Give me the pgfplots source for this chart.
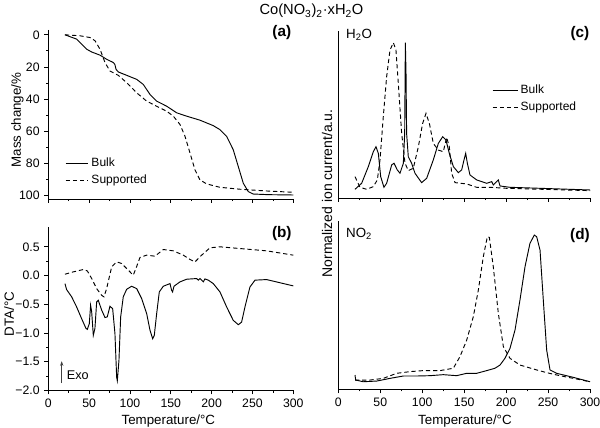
\documentclass[border=0pt]{standalone}
\usepackage{pgfplots}
\pgfplotsset{compat=1.18}
\usetikzlibrary{arrows.meta}
\usepackage{fontspec}
\setmainfont{Liberation Sans}
\tikzset{plab/.style={font=\bfseries\fontsize{11.5}{13}\selectfont, anchor=base}}
\begin{document}
\begin{tikzpicture}
\useasboundingbox (0pt,0pt) rectangle (450pt,321pt);
\pgfplotsset{
  panel/.style={
    scale only axis,
    axis x line*=bottom, axis y line*=left,
    axis line style={line width=0.6pt, -},
    tick style={line width=0.5pt, black},
    tick align=outside,
    major tick length=3pt, minor tick length=1.6pt,
    xmin=0, xmax=300,
    xtick={0,50,...,300}, minor x tick num=1,
    ticklabel style={font=\fontsize{9.2}{11}\selectfont},
    label style={font=\fontsize{10}{12}\selectfont},
    legend cell align=left,
    legend style={draw=none, fill=none, font=\fontsize{9}{11}\selectfont, row sep=1pt, inner sep=0pt},
    legend image code/.code={\draw[##1] (0pt,0pt) -- (17pt,0pt);},
    clip=false,
  },
  bulk/.style={black, line width=0.7pt},
  supp/.style={black, line width=0.7pt, dash pattern=on 3.2pt off 2.2pt},
}
% (a) TGA
\begin{axis}[panel, at={(36.23pt,171.75pt)}, anchor=south west,
  width=183.75pt, height=126.75pt,
  y dir=reverse, ymin=-3, ymax=102.5,
  ytick={0,20,...,100}, yticklabels={0,20,40,60,80,100}, minor y tick num=1,
  xticklabels={},
  ylabel={Mass change/\%},
  ylabel style={at={(axis description cs:-0.126,0.467)}, anchor=center},
  legend style={at={(axis description cs:0.068,0.06)}, anchor=south west},
]
\addplot[bulk] coordinates {(20.4,0) (34.7,2.7) (47,9) (53,10.7) (63.3,12.7) (71.5,15.3) (79.6,17.3) (81.5,18.5) (82.9,21.5) (85.7,23.2) (96,25.3) (108.2,27.8) (116.3,31) (124.5,37.2) (132.7,41.4) (145,44.6) (151,46.6) (157.2,48.7) (169.5,50.8) (185.7,53.3) (202,56.7) (210.2,59.2) (218.4,63.4) (226.5,71.8) (232.6,82.2) (238.8,92.7) (244.9,97.9) (251,99.4) (270,99.8) (300,100)};
\addlegendentry{Bulk}
\addplot[supp] coordinates {(20.4,0) (38.8,0.6) (51,1.7) (57.2,3.7) (63.3,9) (69.4,17.3) (75.5,22.6) (85.7,25.3) (96,29.9) (108.2,36.2) (120.4,41.4) (132.7,44.6) (145,47.7) (153.1,50.8) (161.3,56) (167.4,63.4) (173.5,73.8) (179.6,84.3) (185.7,90.6) (194,93.1) (210.2,95.2) (234.7,96.4) (267.4,97.5) (300,98.3)};
\addlegendentry{Supported}
\node[plab] at (axis description cs:0.953,0.96) {(a)};
\end{axis}
% (b) DTA
\begin{axis}[panel, at={(36.23pt,28.125pt)}, anchor=south west,
  width=183.75pt, height=122.85pt,
  ymin=-2.0, ymax=0.85,
  ytick={-2,-1.5,-1,-0.5,0,0.5}, yticklabels={−2.0,−1.5,−1.0,−0.5,0.0,0.5}, minor y tick num=1,
  xticklabels={0,50,100,150,200,250,300},
  ylabel={DTA/°C}, xlabel={Temperature/°C},
  ylabel style={at={(axis description cs:-0.16,0.467)}, anchor=center},
  xlabel style={at={(axis description cs:0.49,-0.205)}, anchor=base},
]
\addplot[bulk] coordinates {(20.4,-0.14) (22.4,-0.244) (28.6,-0.37) (34.7,-0.547) (40.8,-0.75) (46.1,-0.92) (47.8,-0.936) (50.2,-0.837) (51.8,-0.517) (53.1,-0.63) (55.1,-1.04) (57.1,-0.92) (59.2,-0.46) (61.2,-0.43) (65.3,-0.60) (69.4,-0.73) (72.2,-0.72) (75.5,-0.535) (78.8,-0.576) (81.6,-1.01) (83.7,-1.77) (84.5,-1.83) (86.5,-1.48) (88.6,-0.72) (91.8,-0.37) (95.9,-0.24) (102,-0.186) (108.2,-0.227) (114.3,-0.40) (120.4,-0.66) (124.5,-0.95) (127.8,-1.10) (129.8,-1.04) (132.7,-0.66) (135.9,-0.285) (140.8,-0.186) (149,-0.14) (151,-0.256) (152.2,-0.285) (153.9,-0.186) (161.2,-0.11) (169.4,-0.064) (181.6,-0.052) (183.7,-0.08) (185.7,-0.052) (189.8,-0.11) (191.8,-0.058) (195.9,-0.08) (202,-0.14) (210.2,-0.285) (218.4,-0.547) (226.5,-0.78) (232.7,-0.855) (236.7,-0.81) (240.8,-0.547) (246.9,-0.20) (253.1,-0.08) (267.3,-0.07) (300,-0.18)};
\addplot[supp] coordinates {(20.4,0.023) (30.6,0.064) (42.9,0.105) (47.8,0.08) (53.1,-0.052) (59.2,-0.227) (65.3,-0.343) (68.2,-0.372) (71.4,-0.227) (77.6,0.151) (83.7,0.238) (89.8,0.21) (98,0.093) (104,0.006) (107.3,0.122) (112.2,0.314) (120.4,0.355) (130.6,0.337) (140.8,0.453) (153,0.43) (165.3,0.355) (173.5,0.28) (179.6,0.238) (187.8,0.355) (198,0.483) (210.2,0.5) (234.7,0.47) (267.3,0.43) (300,0.355)};
\draw[-{Stealth[length=3.5pt,width=2.5pt]}, line width=0.6pt, black!75] (axis cs:16.4,-1.87) -- (axis cs:16.4,-1.49);
\node[anchor=west, inner sep=0pt, font=\fontsize{9.5}{11}\selectfont] at (axis cs:22.5,-1.74) {Exo};
\node[plab] at (axis description cs:0.953,0.933) {(b)};
\end{axis}
% (c) H2O
\begin{axis}[panel, at={(253.73pt,172.5pt)}, anchor=south west,
  width=188.8pt, height=125.25pt,
  ymin=0, ymax=1, ytick=\empty, xticklabels={},
  legend style={at={(axis description cs:0.61,0.593)}, anchor=west},
  legend image code/.code={\draw[#1] (0pt,0pt) -- (18.75pt,0pt);},
]
\addplot[bulk] coordinates {(19.9,0.052) (27.8,0.088) (35.8,0.188) (41.7,0.277) (44.9,0.307) (47.7,0.267) (50.5,0.128) (54.4,0.064) (57.6,0.088) (63.6,0.198) (66.4,0.208) (70.3,0.168) (73.5,0.148) (77.5,0.208) (79.1,0.387) (79.9,0.93) (80.7,0.746) (81.4,0.387) (83.4,0.247) (87.4,0.208) (91.4,0.148) (99.3,0.092) (105.3,0.118) (113.2,0.228) (119.2,0.327) (124.4,0.367) (128.3,0.347) (132.3,0.267) (137.1,0.188) (143,0.152) (147,0.168) (149.8,0.228) (151.8,0.267) (153.8,0.208) (156.9,0.138) (164.9,0.108) (176.8,0.088) (182.8,0.098) (184.7,0.078) (190.7,0.108) (192.7,0.072) (204.6,0.064) (240.4,0.058) (300,0.048)};
\addlegendentry{Bulk}
\addplot[supp] coordinates {(19.9,0.128) (25.8,0.064) (33.8,0.052) (41.7,0.068) (46.5,0.108) (49.7,0.228) (53.6,0.487) (57.6,0.727) (61.6,0.886) (65.6,0.93) (68.7,0.886) (71.5,0.687) (75.5,0.387) (79.5,0.208) (83.4,0.164) (89.4,0.178) (95.4,0.307) (100.5,0.447) (104.5,0.507) (108.5,0.447) (113.2,0.327) (119.2,0.287) (125.1,0.277) (129.1,0.363) (132.3,0.307) (135.1,0.148) (139.1,0.092) (153,0.084) (164.9,0.064) (180.8,0.064) (200.6,0.058) (300,0.044)};
\addlegendentry{Supported}
\node[anchor=base west, inner sep=0pt, font=\fontsize{10}{12}\selectfont] at (axis description cs:0.03,0.956) {H\textsubscript{2}O};
\node[plab] at (axis description cs:0.96,0.962) {(c)};
\end{axis}
% (d) NO2
\begin{axis}[panel, at={(253.73pt,29.0pt)}, anchor=south west,
  width=188.8pt, height=126.45pt,
  ymin=0, ymax=1, ytick=\empty,
  xticklabels={0,50,100,150,200,250,300},
  xlabel={Temperature/°C},
  xlabel style={at={(axis description cs:0.503,-0.206)}, anchor=base},
]
\addplot[bulk] coordinates {(19.9,0.085) (20.7,0.055) (29.8,0.045) (45.7,0.049) (61.6,0.065) (77.5,0.079) (93.4,0.079) (109.3,0.081) (125.1,0.087) (141,0.081) (153,0.095) (164.9,0.095) (176.8,0.111) (186.7,0.125) (192.7,0.144) (198.6,0.184) (204.6,0.243) (210.6,0.352) (216.5,0.53) (222.5,0.727) (228.4,0.866) (233.6,0.915) (236.4,0.905) (240.4,0.826) (244.3,0.53) (248.3,0.233) (252.3,0.115) (260.2,0.095) (280.1,0.071) (300,0.045)};
\addplot[supp] coordinates {(19.9,0.055) (37.7,0.055) (53.6,0.065) (69.5,0.095) (85.4,0.105) (101.3,0.111) (121.2,0.111) (137.1,0.125) (145,0.194) (153,0.292) (160.9,0.431) (166.9,0.589) (172.8,0.787) (177.6,0.905) (180,0.901) (184.7,0.727) (190.7,0.451) (196.7,0.253) (204.6,0.184) (216.5,0.144) (236.4,0.115) (248.3,0.099) (260.2,0.085) (300,0.045)};
\node[anchor=base west, inner sep=0pt, font=\fontsize{10}{12}\selectfont] at (axis description cs:0.03,0.90) {NO\textsubscript{2}};
\node[plab] at (axis description cs:0.96,0.891) {(d)};
\end{axis}
\node[rotate=90, font=\fontsize{10.5}{12}\selectfont] at (245.25pt,175.9pt) {Normalized ion current/a.u.};
\node[anchor=base, font=\fontsize{11}{13}\selectfont] at (233.6pt,309.75pt) {Co(NO\textsubscript{3})\textsubscript{2}·xH\textsubscript{2}O};
\end{tikzpicture}
\end{document}
